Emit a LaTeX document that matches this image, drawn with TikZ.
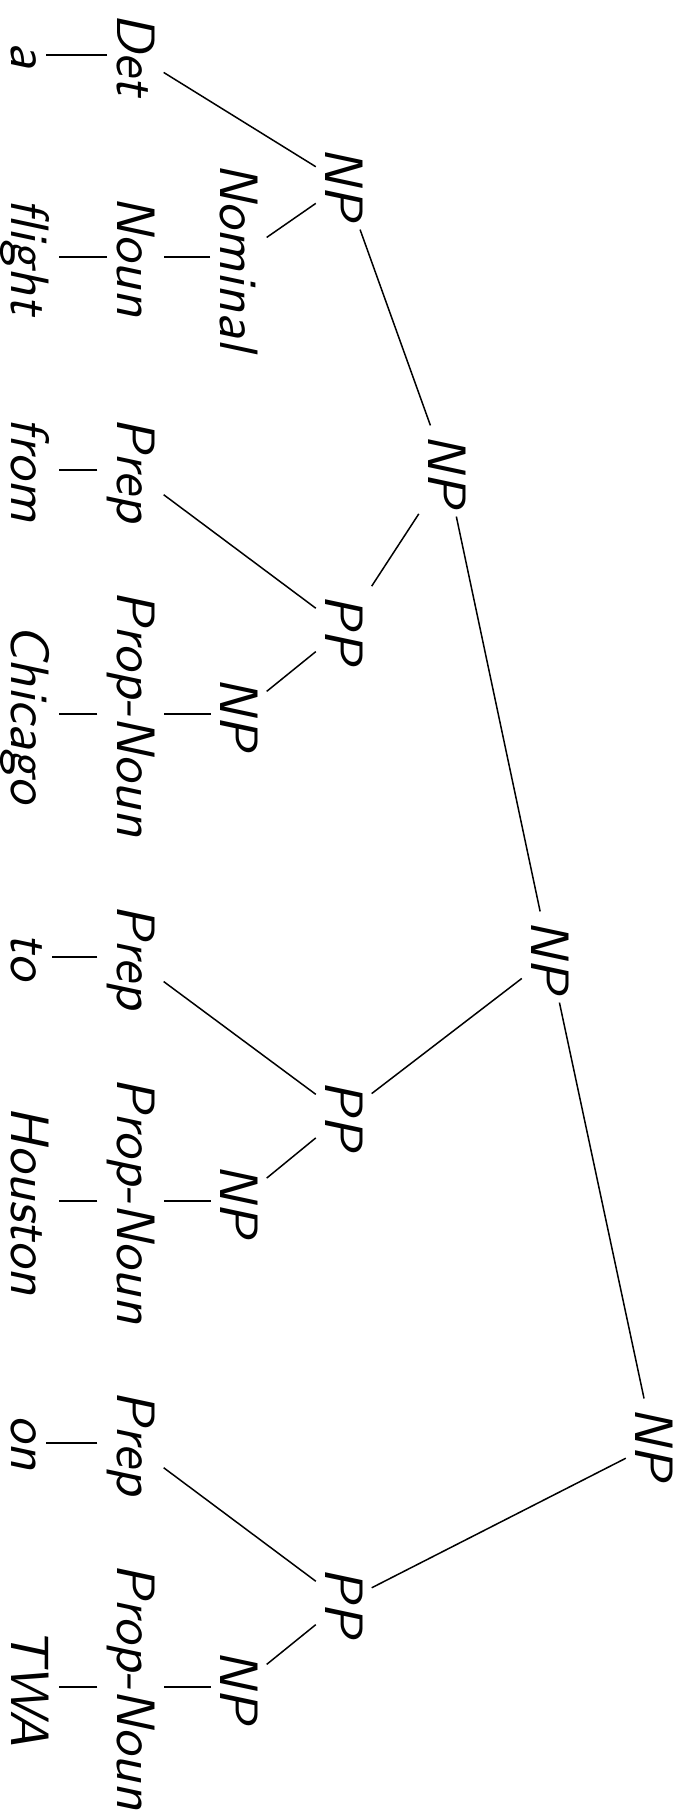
\documentclass[tikz,border=0pt]{standalone}
\usepackage{fontspec}
% the 10pt design of Latin Modern Sans, scaled up
\newfontfamily\treefont{lmsans10-oblique.otf}
\begin{document}
\begin{tikzpicture}[x=1pt,y=-1pt,
  lbl/.style={rotate=-90, anchor=base, inner sep=9pt,
    font=\treefont\fontsize{54}{64}\selectfont},
  edge/.style={line width=1.5pt}]
\useasboundingbox (0,0) rectangle (683,1817);

% words
\node[lbl] (w-a)       at (12,55)   {a};
\node[lbl] (w-flight)  at (12,257)  {flight};
\node[lbl] (w-from)    at (12,470)  {from};
\node[lbl] (w-chicago) at (12,714)  {Chicago};
\node[lbl] (w-to)      at (12,957)  {to};
\node[lbl] (w-houston) at (12,1201) {Houston};
\node[lbl] (w-on)      at (12,1443) {on};
\node[lbl] (w-twa)     at (12,1687) {TWA};

% parts of speech
\node[lbl] (det)   at (117,55)   {Det};
\node[lbl] (noun)  at (117,257)  {Noun};
\node[lbl] (prep1) at (117,470)  {Prep};
\node[lbl] (pn1)   at (117,714)  {Prop-Noun};
\node[lbl] (prep2) at (117,957)  {Prep};
\node[lbl] (pn2)   at (117,1201) {Prop-Noun};
\node[lbl] (prep3) at (117,1443) {Prep};
\node[lbl] (pn3)   at (117,1687) {Prop-Noun};

% phrases
\node[lbl] (nom)   at (220,257)  {Nominal};
\node[lbl] (npc)   at (220,714)  {NP};
\node[lbl] (nph)   at (220,1201) {NP};
\node[lbl] (npt)   at (220,1687) {NP};

\node[lbl] (np1)   at (325,184)  {NP};
\node[lbl] (pp1)   at (325,629)  {PP};
\node[lbl] (pp2)   at (325,1115) {PP};
\node[lbl] (pp3)   at (325,1602) {PP};

\node[lbl] (np2)   at (428,471)  {NP};
\node[lbl] (np3)   at (531,957)  {NP};
\node[lbl] (np4)   at (635,1444) {NP};

% branches
\draw[edge] (np4) -- (np3);
\draw[edge] (np4) -- (pp3);
\draw[edge] (np3) -- (np2);
\draw[edge] (np3) -- (pp2);
\draw[edge] (np2) -- (np1);
\draw[edge] (np2) -- (pp1);
\draw[edge] (np1) -- (det);
\draw[edge] (np1) -- (nom);
\draw[edge] (det) -- (w-a);
\draw[edge] (nom) -- (noun);
\draw[edge] (noun) -- (w-flight);

\draw[edge] (pp1) -- (prep1);
\draw[edge] (pp1) -- (npc);
\draw[edge] (prep1) -- (w-from);
\draw[edge] (npc) -- (pn1);
\draw[edge] (pn1) -- (w-chicago);

\draw[edge] (pp2) -- (prep2);
\draw[edge] (pp2) -- (nph);
\draw[edge] (prep2) -- (w-to);
\draw[edge] (nph) -- (pn2);
\draw[edge] (pn2) -- (w-houston);

\draw[edge] (pp3) -- (prep3);
\draw[edge] (pp3) -- (npt);
\draw[edge] (prep3) -- (w-on);
\draw[edge] (npt) -- (pn3);
\draw[edge] (pn3) -- (w-twa);
\end{tikzpicture}
\end{document}
